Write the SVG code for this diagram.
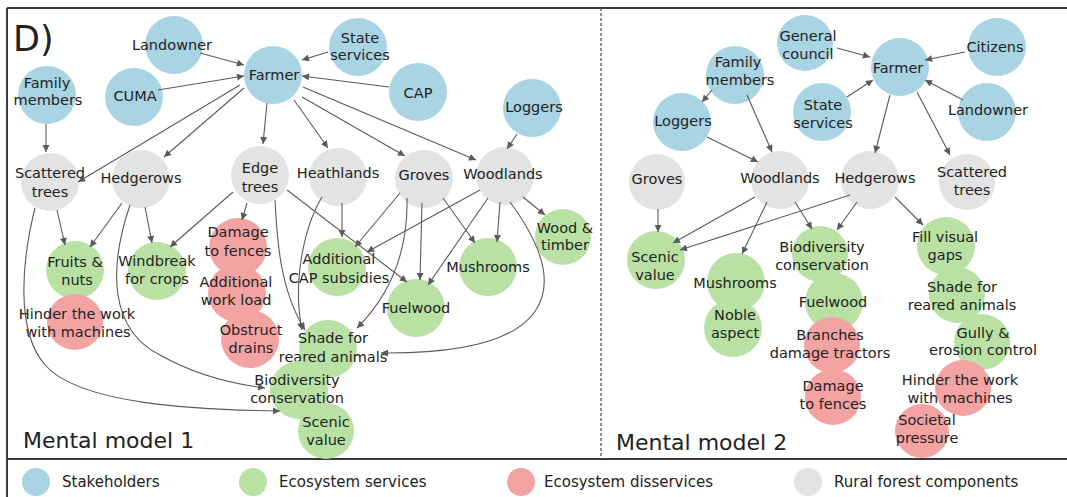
<svg xmlns="http://www.w3.org/2000/svg" width="1067" height="497" viewBox="0 0 1067 497">
<style>
.b{fill:#a8d4e3}.g{fill:#b9e1a4}.r{fill:#f4a3a3}.y{fill:#e3e3e3}
text{font-family:"DejaVu Sans","Liberation Sans",sans-serif;font-size:14.5px;fill:#222;text-anchor:middle}
.e{fill:none;stroke:#5a5a5a;stroke-width:1.1;marker-end:url(#ah)}
.lg{text-anchor:start;font-size:15px}
.mm{text-anchor:start;font-size:22px}
</style>
<defs>
<marker id="ah" viewBox="0 0 10 10" refX="10" refY="5" markerWidth="8" markerHeight="7" orient="auto" markerUnits="userSpaceOnUse"><path d="M0,0 L10,5 L0,10 z" fill="#5a5a5a"/></marker>
</defs>
<rect width="1067" height="497" fill="#fff"/>
<g id="frame" fill="none" stroke="#3a3a3a" stroke-width="2">
<path d="M7,8 H1067 M7,8 V497 M7,459 H1067"/>
<path d="M601,8 V459" stroke="#555" stroke-width="1.3" stroke-dasharray="3,2"/>
</g>
<text x="13" y="51" style="font-size:35px;text-anchor:start">D)</text>
<text class="mm" x="23" y="448">Mental model 1</text>
<text class="mm" x="616" y="450">Mental model 2</text>

<!-- Left panel nodes -->
<g id="landowner1"><circle class="b" cx="174" cy="45" r="29"/><text x="172" y="50">Landowner</text></g>
<g id="state1"><circle class="b" cx="358" cy="47" r="29"/><text x="360" y="43">State</text><text x="360" y="60">services</text></g>
<g id="farmer1"><circle class="b" cx="273" cy="75" r="29"/><text x="274" y="80">Farmer</text></g>
<g id="family1"><circle class="b" cx="47" cy="95" r="29"/><text x="47" y="88">Family</text><text x="48" y="105">members</text></g>
<g id="cuma1"><circle class="b" cx="134" cy="97" r="29"/><text x="135" y="101">CUMA</text></g>
<g id="cap1"><circle class="b" cx="418" cy="92" r="29"/><text x="418" y="98">CAP</text></g>
<g id="loggers1"><circle class="b" cx="532" cy="108" r="29"/><text x="534" y="112">Loggers</text></g>
<g id="scattered1"><circle class="y" cx="50" cy="182" r="29"/><text x="50" y="178">Scattered</text><text x="50" y="197">trees</text></g>
<g id="hedgerows1"><circle class="y" cx="141" cy="179" r="29"/><text x="141" y="183">Hedgerows</text></g>
<g id="edge1"><circle class="y" cx="260" cy="175" r="29"/><text x="260" y="173">Edge</text><text x="260" y="192">trees</text></g>
<g id="heathlands1"><circle class="y" cx="338" cy="177" r="29"/><text x="338" y="178">Heathlands</text></g>
<g id="groves1"><circle class="y" cx="424" cy="179" r="29"/><text x="424" y="180">Groves</text></g>
<g id="woodlands1"><circle class="y" cx="505" cy="176" r="29"/><text x="503" y="179">Woodlands</text></g>
<g id="woodtimber1"><circle class="g" cx="563" cy="237" r="28"/><text x="565" y="233">Wood &amp;</text><text x="565" y="250">timber</text></g>
<g id="fruits1"><circle class="g" cx="75" cy="270" r="29"/><text x="75" y="267">Fruits &amp;</text><text x="77" y="285">nuts</text></g>
<g id="windbreak1"><circle class="g" cx="157" cy="271" r="29"/><text x="157" y="266">Windbreak</text><text x="157" y="284">for crops</text></g>
<g id="addcap1"><circle class="g" cx="337" cy="267" r="29"/><text x="339" y="264">Additional</text><text x="339" y="283">CAP subsidies</text></g>
<g id="mushrooms1"><circle class="g" cx="488" cy="267" r="29"/><text x="488" y="272">Mushrooms</text></g>
<g id="fuelwood1"><circle class="g" cx="416" cy="308" r="29"/><text x="416" y="313">Fuelwood</text></g>
<g id="shade1"><circle class="g" cx="328" cy="349" r="29"/><text x="333" y="343">Shade for</text><text x="333" y="362">reared animals</text></g>
<g id="biodiv1"><circle class="g" cx="299" cy="390" r="29"/><text x="297" y="385">Biodiversity</text><text x="297" y="403">conservation</text></g>
<g id="scenic1"><circle class="g" cx="326" cy="431" r="28"/><text x="326" y="427">Scenic</text><text x="326" y="445">value</text></g>
<g id="hinder1"><circle class="r" cx="75" cy="322" r="28"/><text x="77" y="319">Hinder the work</text><text x="78" y="337">with machines</text></g>
<g id="damage1"><circle class="r" cx="238" cy="247" r="29"/><text x="238" y="237">Damage</text><text x="238" y="256">to fences</text></g>
<g id="addwork1"><circle class="r" cx="237" cy="293" r="29"/><text x="236" y="287">Additional</text><text x="236" y="305">work load</text></g>
<g id="obstruct1"><circle class="r" cx="250" cy="339" r="29"/><text x="251" y="335">Obstruct</text><text x="251" y="353">drains</text></g>

<!-- Right panel nodes -->
<g id="general2"><circle class="b" cx="805" cy="43" r="28"/><text x="808" y="41">General</text><text x="808" y="59">council</text></g>
<g id="citizens2"><circle class="b" cx="997" cy="47" r="29"/><text x="995" y="52">Citizens</text></g>
<g id="farmer2"><circle class="b" cx="900" cy="67" r="29"/><text x="898" y="73">Farmer</text></g>
<g id="family2"><circle class="b" cx="735" cy="75" r="29"/><text x="738" y="67">Family</text><text x="740" y="85">members</text></g>
<g id="loggers2"><circle class="b" cx="682" cy="122" r="29"/><text x="683" y="126">Loggers</text></g>
<g id="state2"><circle class="b" cx="822" cy="112" r="29"/><text x="823" y="110">State</text><text x="823" y="128">services</text></g>
<g id="landowner2"><circle class="b" cx="987" cy="112" r="29"/><text x="988" y="115">Landowner</text></g>
<g id="groves2"><circle class="y" cx="657" cy="182" r="28"/><text x="657" y="184">Groves</text></g>
<g id="woodlands2"><circle class="y" cx="780" cy="180" r="29"/><text x="780" y="183">Woodlands</text></g>
<g id="hedgerows2"><circle class="y" cx="870" cy="180" r="29"/><text x="875" y="183">Hedgerows</text></g>
<g id="scattered2"><circle class="y" cx="967" cy="182" r="28"/><text x="972" y="177">Scattered</text><text x="972" y="195">trees</text></g>
<g id="fill2"><circle class="g" cx="946" cy="246" r="29"/><text x="945" y="242">Fill visual</text><text x="945" y="260">gaps</text></g>
<g id="scenic2"><circle class="g" cx="656" cy="260" r="29"/><text x="655" y="262">Scenic</text><text x="655" y="280">value</text></g>
<g id="biodiv2"><circle class="g" cx="820" cy="254" r="28"/><text x="822" y="252">Biodiversity</text><text x="822" y="270">conservation</text></g>
<g id="mushrooms2"><circle class="g" cx="736" cy="282" r="29"/><text x="735" y="288">Mushrooms</text></g>
<g id="noble2"><circle class="g" cx="733" cy="328" r="29"/><text x="735" y="320">Noble</text><text x="735" y="338">aspect</text></g>
<g id="fuelwood2"><circle class="g" cx="834" cy="302" r="29"/><text x="833" y="307">Fuelwood</text></g>
<g id="shade2"><circle class="g" cx="957" cy="295" r="28"/><text x="962" y="292">Shade for</text><text x="962" y="310">reared animals</text></g>
<g id="gully2"><circle class="g" cx="982" cy="342" r="28"/><text x="983" y="338">Gully &amp;</text><text x="983" y="355">erosion control</text></g>
<g id="branches2"><circle class="r" cx="832" cy="345" r="28"/><text x="830" y="340">Branches</text><text x="830" y="358">damage tractors</text></g>
<g id="damage2"><circle class="r" cx="833" cy="397" r="28"/><text x="833" y="391">Damage</text><text x="833" y="409">to fences</text></g>
<g id="hinder2"><circle class="r" cx="963" cy="388" r="28"/><text x="960" y="385">Hinder the work</text><text x="960" y="403">with machines</text></g>
<g id="societal2"><circle class="r" cx="922" cy="431" r="27"/><text x="927" y="425">Societal</text><text x="927" y="443">pressure</text></g>

<!-- Connectors -->
<g id="connectors">
<path class="e" d="M200,53 L244,65"/>
<path class="e" d="M328,52 L302,60"/>
<path class="e" d="M158,90 L244,76"/>
<path class="e" d="M389,87 L302,76"/>
<path class="e" d="M240,85 L78,182"/>
<path class="e" d="M244,88 L164,157"/>
<path class="e" d="M267,103 L263,144"/>
<path class="e" d="M294,100 L328,148"/>
<path class="e" d="M302,97 L405,156"/>
<path class="e" d="M303,87 L476,160"/>
<path class="e" d="M46,124 L46,152"/>
<path class="e" d="M517,134 L507,149"/>
<path class="e" d="M57,210 L65,245"/>
<path class="e" d="M122,203 L90,247"/>
<path class="e" d="M145,207 L152,243"/>
<path class="e" d="M233,192 L170,247"/>
<path class="e" d="M247,203 L242,220"/>
<path class="e" d="M35,208 C22,260 15,330 45,365 C80,405 200,410 280,411"/>
<path class="e" d="M130,205 C108,270 110,330 160,355 C190,372 225,383 265,388"/>
<path class="e" d="M275,200 C277,240 280,290 305,330"/>
<path class="e" d="M287,190 L407,282"/>
<path class="e" d="M322,197 C305,225 292,280 302,330"/>
<path class="e" d="M342,203 L342,237"/>
<path class="e" d="M400,193 L355,247"/>
<path class="e" d="M407,198 C408,245 395,290 357,328"/>
<path class="e" d="M422,203 L420,280"/>
<path class="e" d="M443,198 L475,243"/>
<path class="e" d="M480,190 L367,252"/>
<path class="e" d="M488,198 L428,285"/>
<path class="e" d="M500,202 L497,242"/>
<path class="e" d="M523,197 L545,215"/>
<path class="e" d="M510,202 C575,290 555,355 381,353"/>
<path class="e" d="M837,48 L870,57"/>
<path class="e" d="M965,52 L925,60"/>
<path class="e" d="M847,97 L873,80"/>
<path class="e" d="M963,100 L925,80"/>
<path class="e" d="M890,95 L875,153"/>
<path class="e" d="M917,92 L950,155"/>
<path class="e" d="M712,90 L702,102"/>
<path class="e" d="M747,95 L772,152"/>
<path class="e" d="M707,137 L758,162"/>
<path class="e" d="M658,209 L658,232"/>
<path class="e" d="M755,197 L673,243"/>
<path class="e" d="M850,195 L680,250"/>
<path class="e" d="M767,202 L742,254"/>
<path class="e" d="M795,202 L812,229"/>
<path class="e" d="M857,202 L837,230"/>
<path class="e" d="M895,197 L923,225"/>
</g>

<!-- Legend -->
<g id="legend">
<circle class="b" cx="36" cy="482" r="14"/><text class="lg" x="62" y="487">Stakeholders</text>
<circle class="g" cx="253" cy="482" r="14"/><text class="lg" x="279" y="487">Ecosystem services</text>
<circle class="r" cx="521" cy="482" r="14"/><text class="lg" x="544" y="487">Ecosystem disservices</text>
<circle class="y" cx="808" cy="482" r="14"/><text class="lg" x="834" y="487">Rural forest components</text>
</g>
</svg>
